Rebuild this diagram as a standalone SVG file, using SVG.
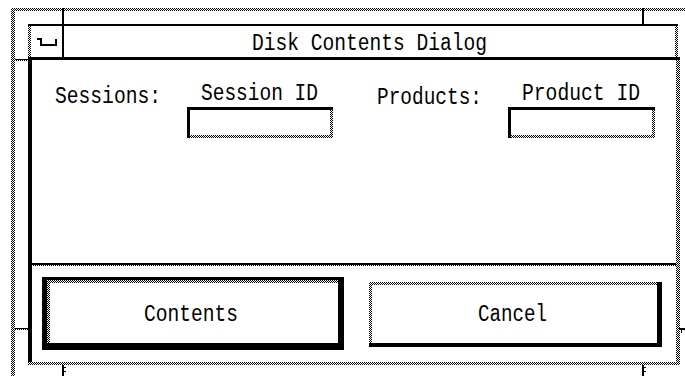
<svg xmlns="http://www.w3.org/2000/svg" width="685" height="376" viewBox="0 0 685 376">
<defs>
<pattern id="chk" width="2" height="2" patternUnits="userSpaceOnUse"><rect width="1" height="1" fill="#000"/><rect x="1" y="1" width="1" height="1" fill="#000"/></pattern>
<style>
.d{fill:url(#chk)}
.k{fill:#000}
.t{font-family:"Liberation Mono","DejaVu Sans Mono",monospace;font-size:23px;fill:#000}
</style>
</defs>
<rect width="685" height="376" fill="#fff"/>
<g id="window-frame">
<rect class="d" x="11" y="8" width="674" height="3"/>
<rect class="d" x="11" y="8" width="4" height="368"/>
<rect class="k" x="62" y="8" width="2" height="50"/>
<rect class="k" x="642" y="8" width="2" height="17"/>
<rect class="k" x="15" y="59" width="14" height="1"/>
<rect class="d" x="15" y="60" width="14" height="1"/>
<rect class="k" x="15" y="328" width="14" height="1"/>
<rect class="d" x="15" y="329" width="14" height="1"/>
<rect class="k" x="679" y="328" width="6" height="2"/>
<rect class="k" x="681" y="328" width="1" height="5"/>
<rect class="k" x="62" y="365" width="2" height="11"/>
<rect class="k" x="62" y="367" width="4" height="1"/>
<rect class="k" x="62" y="371" width="4" height="1"/>
<rect class="k" x="642" y="365" width="2" height="11"/>
<rect class="k" x="642" y="367" width="4" height="1"/>
<rect class="k" x="642" y="371" width="4" height="1"/>
</g>
<g id="title-bar">
<rect class="k" x="28" y="24" width="650" height="2"/>
<rect class="d" x="28" y="26" width="3" height="31"/>
<rect class="d" x="675" y="26" width="3" height="31"/>
<rect class="k" x="28" y="57" width="652" height="3"/>
<path d="M37 39 h4 v6 h15 v-6" fill="none" stroke="#000" stroke-width="2"/>
<text class="t" x="252" y="50" textLength="235" lengthAdjust="spacingAndGlyphs">Disk Contents Dialog</text>
</g>
<g id="dialog-body">
<rect class="k" x="28" y="57" width="4" height="305"/>
<rect class="d" x="676" y="58" width="4" height="306"/>
<rect class="d" x="28" y="362" width="652" height="3"/>
<rect class="k" x="32" y="263" width="644" height="2"/>
<rect class="d" x="32" y="265" width="644" height="1"/>
</g>
<g id="sessions">
<text class="t" x="55" y="103" textLength="106" lengthAdjust="spacingAndGlyphs">Sessions:</text>
<text class="t" x="201" y="100" textLength="117" lengthAdjust="spacingAndGlyphs">Session ID</text>
<rect class="k" x="187" y="107" width="146" height="3"/>
<rect class="k" x="187" y="107" width="3" height="31"/>
<rect class="d" x="330" y="110" width="3" height="28"/>
<rect class="d" x="190" y="135" width="143" height="3"/>
</g>
<g id="products">
<text class="t" x="377" y="104" textLength="105" lengthAdjust="spacingAndGlyphs">Products:</text>
<text class="t" x="522" y="100" textLength="118" lengthAdjust="spacingAndGlyphs">Product ID</text>
<rect class="k" x="508" y="107" width="147" height="3"/>
<rect class="k" x="508" y="107" width="3" height="31"/>
<rect class="d" x="652" y="110" width="3" height="28"/>
<rect class="d" x="511" y="135" width="144" height="3"/>
</g>
<g id="contents-button">
<rect class="k" x="42" y="277" width="302" height="73"/>
<rect fill="#fff" x="47" y="280" width="291" height="63"/>
<rect class="d" x="47" y="280" width="291" height="3"/>
<rect class="d" x="47" y="280" width="3" height="63"/>
<text class="t" x="144" y="321" textLength="94" lengthAdjust="spacingAndGlyphs">Contents</text>
</g>
<g id="cancel-button">
<rect class="d" x="369" y="282" width="293" height="3"/>
<rect class="d" x="369" y="282" width="3" height="65"/>
<rect class="k" x="657" y="282" width="5" height="65"/>
<rect class="k" x="369" y="343" width="293" height="4"/>
<text class="t" x="478" y="321" textLength="69" lengthAdjust="spacingAndGlyphs">Cancel</text>
</g>
</svg>
